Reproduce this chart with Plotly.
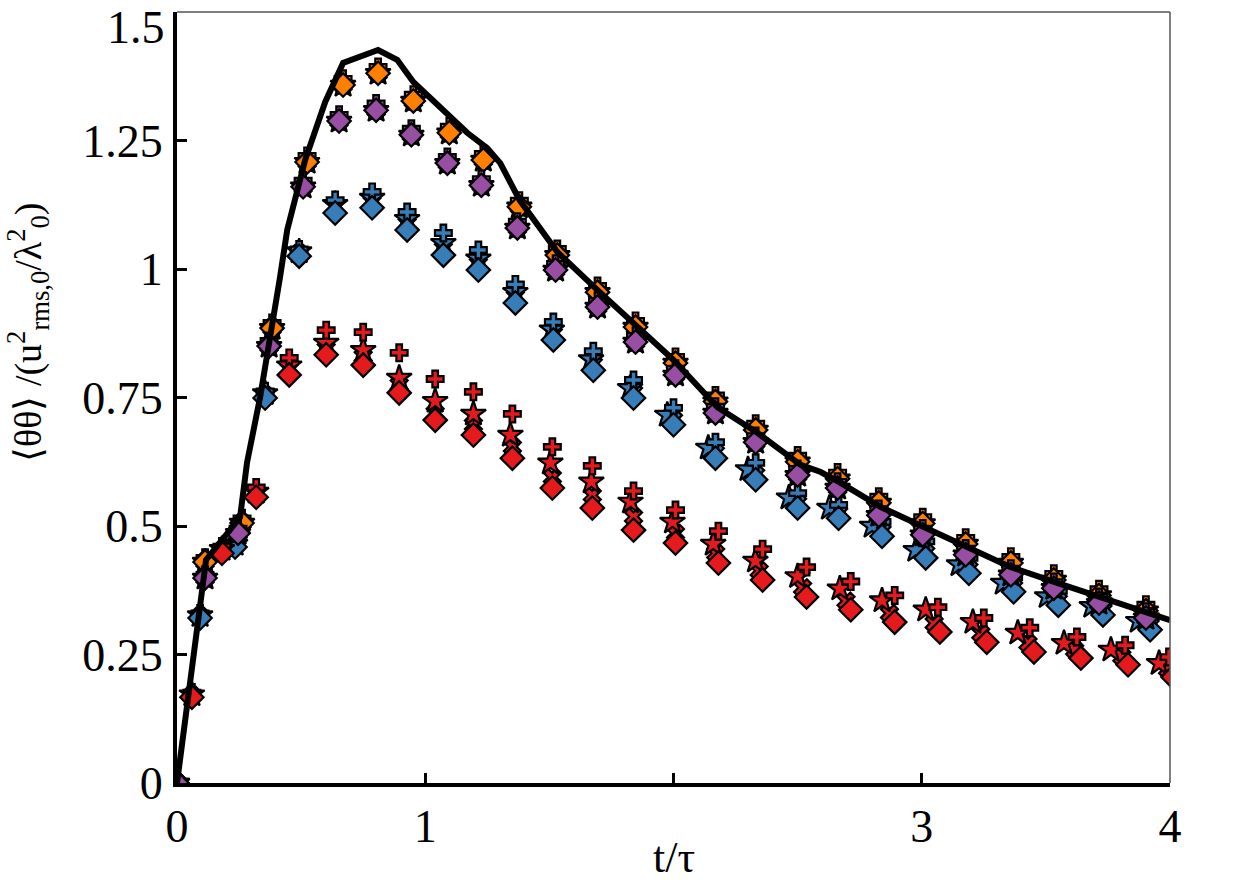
import plotly.graph_objects as go

# ---------------- data ----------------
t_line = [0, 0.117, 0.254, 0.282, 0.335, 0.387, 0.415, 0.444, 0.516, 0.597, 0.669, 0.810, 0.887, 0.952,
          1.048, 1.169, 1.250, 1.302, 1.380, 1.532, 1.694, 1.847, 2.000, 2.177, 2.339, 2.512, 2.593, 2.673,
          2.835, 3.008, 3.185, 3.359, 3.548, 3.734, 3.911, 4.000]
v_line = [0, 0.434, 0.517, 0.623, 0.751, 0.895, 0.984, 1.076, 1.212, 1.325, 1.401, 1.426, 1.407, 1.364,
          1.319, 1.265, 1.235, 1.206, 1.134, 1.033, 0.959, 0.891, 0.823, 0.731, 0.681, 0.619, 0.605, 0.584,
          0.537, 0.498, 0.459, 0.420, 0.389, 0.360, 0.331, 0.317]

# orange
t_orange = [0.0, 0.113, 0.262, 0.383, 0.524, 0.669, 0.810, 0.952, 1.097, 1.234, 1.379, 1.532, 1.694, 1.847,
            2.008, 2.169, 2.331, 2.500, 2.661, 2.827, 3.004, 3.177, 3.359, 3.532, 3.714, 3.903]
v_orange_diamond = [0.0, 0.430, 0.506, 0.885, 1.208, 1.358, 1.381, 1.327, 1.265, 1.212, 1.121, 1.027, 0.955,
                    0.887, 0.817, 0.742, 0.687, 0.625, 0.592, 0.545, 0.505, 0.465, 0.428, 0.395, 0.365, 0.335]
v_orange_cross = [0.0, 0.438, 0.515, 0.895, 1.220, 1.370, 1.393, 1.339, 1.277, 1.224, 1.133, 1.039, 0.967,
                  0.899, 0.829, 0.754, 0.699, 0.637, 0.604, 0.557, 0.517, 0.477, 0.440, 0.407, 0.377, 0.347]

# purple
t_purple = [0.0, 0.113, 0.246, 0.371, 0.508, 0.653, 0.802, 0.944, 1.089, 1.226, 1.371, 1.525, 1.694, 1.847,
            2.008, 2.169, 2.331, 2.500, 2.661, 2.827, 3.004, 3.177, 3.359, 3.532, 3.714, 3.903]
v_purple_diamond = [0.0, 0.399, 0.486, 0.850, 1.160, 1.288, 1.309, 1.261, 1.206, 1.163, 1.080, 0.998, 0.926,
                    0.858, 0.794, 0.720, 0.663, 0.599, 0.574, 0.521, 0.483, 0.444, 0.405, 0.379, 0.350, 0.321]
v_purple_cross = [0.0, 0.405, 0.495, 0.860, 1.172, 1.300, 1.322, 1.273, 1.218, 1.175, 1.092, 1.010, 0.938,
                  0.870, 0.806, 0.732, 0.675, 0.611, 0.586, 0.533, 0.495, 0.456, 0.417, 0.391, 0.362, 0.333]

# blue
t_blue = [0.093, 0.234, 0.355, 0.492, 0.637, 0.786, 0.927, 1.073, 1.214, 1.363, 1.516, 1.677, 1.839, 2.000,
          2.169, 2.331, 2.500, 2.665, 2.840, 3.016, 3.190, 3.370, 3.550, 3.730, 3.920]
t_blue_star = [0.093, 0.234, 0.355, 0.492, 0.637, 0.786, 0.927, 1.073, 1.214, 1.363, 1.510, 1.668, 1.825,
               1.975, 2.140, 2.300, 2.465, 2.628, 2.800, 2.976, 3.150, 3.328, 3.505, 3.685, 3.872]
v_blue_diamond = [0.321, 0.459, 0.749, 1.025, 1.109, 1.119, 1.076, 1.027, 0.998, 0.934, 0.862, 0.803, 0.749,
                  0.697, 0.632, 0.590, 0.535, 0.515, 0.480, 0.438, 0.408, 0.372, 0.346, 0.327, 0.298]
v_blue_x = [0.324, 0.462, 0.754, 1.030, 1.120, 1.130, 1.088, 1.040, 1.010, 0.946, 0.874, 0.815, 0.760,
            0.707, 0.643, 0.600, 0.545, 0.525, 0.490, 0.448, 0.417, 0.381, 0.355, 0.336, 0.307]
v_blue_star = [0.326, 0.465, 0.758, 1.034, 1.126, 1.138, 1.097, 1.050, 1.020, 0.955, 0.882, 0.824, 0.768,
               0.716, 0.652, 0.610, 0.555, 0.535, 0.500, 0.453, 0.425, 0.389, 0.363, 0.344, 0.315]
v_blue_cross = [0.330, 0.468, 0.762, 1.038, 1.134, 1.150, 1.111, 1.070, 1.037, 0.970, 0.897, 0.840, 0.784,
                0.730, 0.663, 0.623, 0.564, 0.541, 0.508, 0.470, 0.438, 0.400, 0.374, 0.354, 0.324]

# red
t_red = [0.060, 0.181, 0.319, 0.452, 0.601, 0.750, 0.895, 1.040, 1.194, 1.351, 1.512, 1.673, 1.839, 2.008,
         2.181, 2.359, 2.536, 2.714, 2.891, 3.073, 3.262, 3.452, 3.641, 3.831, 4.012]
t_red_x = [0.060, 0.181, 0.319, 0.452, 0.601, 0.750, 0.895, 1.040, 1.194, 1.351, 1.512, 1.673, 1.839, 2.008,
           2.170, 2.345, 2.520, 2.695, 2.870, 3.050, 3.238, 3.428, 3.616, 3.806, 3.990]
t_red_star = [0.060, 0.181, 0.319, 0.452, 0.601, 0.750, 0.895, 1.040, 1.194, 1.343, 1.504, 1.669, 1.827,
              1.996, 2.160, 2.330, 2.500, 2.670, 2.840, 3.016, 3.206, 3.387, 3.573, 3.762, 3.956]
t_red_cross = [0.060, 0.181, 0.319, 0.452, 0.601, 0.750, 0.895, 1.040, 1.194, 1.351, 1.512, 1.673, 1.839,
               2.008, 2.181, 2.359, 2.536, 2.714, 2.891, 3.065, 3.250, 3.435, 3.625, 3.819, 3.996]
v_red_diamond = [0.167, 0.447, 0.556, 0.794, 0.833, 0.813, 0.759, 0.706, 0.677, 0.632, 0.574, 0.535, 0.492,
                 0.467, 0.428, 0.395, 0.362, 0.337, 0.313, 0.294, 0.274, 0.255, 0.243, 0.230, 0.206]
v_red_x = [0.170, 0.452, 0.561, 0.805, 0.845, 0.830, 0.775, 0.720, 0.697, 0.654, 0.595, 0.560, 0.518,
           0.486, 0.447, 0.413, 0.380, 0.354, 0.330, 0.311, 0.291, 0.272, 0.259, 0.246, 0.222]
v_red_star = [0.172, 0.455, 0.566, 0.812, 0.856, 0.842, 0.788, 0.743, 0.718, 0.677, 0.623, 0.586, 0.547,
              0.508, 0.465, 0.432, 0.402, 0.378, 0.355, 0.337, 0.313, 0.292, 0.272, 0.259, 0.233]
v_red_cross = [0.176, 0.460, 0.575, 0.827, 0.881, 0.877, 0.837, 0.786, 0.761, 0.718, 0.654, 0.617, 0.568,
               0.531, 0.490, 0.455, 0.420, 0.392, 0.365, 0.342, 0.321, 0.302, 0.284, 0.268, 0.245]

x_ticks = [0, 1, 2, 3, 4]
x_ticklabels = ["0", "1", "", "3", "4"]
y_ticks = [0, 0.25, 0.5, 0.75, 1, 1.25, 1.5]
y_ticklabels = ["0", "0.25", "0.5", "0.75", "1", "1.25", ""]
y_top_label = "1.5"   # drawn as an annotation so it stays inside the page

ORANGE = "#ff7f00"
PURPLE = "#984ea3"
BLUE = "#377eb8"
RED = "#e41a1c"

FONT = "Liberation Serif"

fig = go.Figure()

SIZES = {"x": 15, "star": 19, "cross": 14, "diamond": 18}


def add(t, v, color, symbol):
    fig.add_trace(go.Scatter(
        x=t, y=v, mode="markers",
        marker=dict(symbol=symbol, size=SIZES[symbol], color=color,
                    line=dict(color="black", width=2.2)),
        hoverinfo="skip", showlegend=False))


groups = [
    (ORANGE, [(t_orange, v_orange_diamond, "x"), (t_orange, v_orange_diamond, "star"),
              (t_orange, v_orange_cross, "cross"), (t_orange, v_orange_diamond, "diamond")]),
    (BLUE, [(t_blue, v_blue_x, "x"), (t_blue_star, v_blue_star, "star"),
            (t_blue, v_blue_cross, "cross"), (t_blue, v_blue_diamond, "diamond")]),
    (PURPLE, [(t_purple, v_purple_diamond, "x"), (t_purple, v_purple_diamond, "star"),
              (t_purple, v_purple_cross, "cross"), (t_purple, v_purple_diamond, "diamond")]),
    (RED, [(t_red_x, v_red_x, "x"), (t_red_star, v_red_star, "star"),
           (t_red_cross, v_red_cross, "cross"), (t_red, v_red_diamond, "diamond")]),
]
for color, series in groups:
    for t, v, sym in series:
        add(t, v, color, sym)

fig.add_trace(go.Scatter(x=t_line, y=v_line, mode="lines",
                         line=dict(color="black", width=6), hoverinfo="skip", showlegend=False))

axis_common = dict(
    ticks="inside", ticklen=10, tickwidth=3, tickcolor="black",
    showline=True, linewidth=4, linecolor="black",
    showgrid=False, zeroline=False, automargin=False,
    tickfont=dict(family=FONT, size=46, color="black"),
)

fig.update_xaxes(range=[0, 4], tickmode="array", tickvals=x_ticks, ticktext=x_ticklabels, **axis_common)
fig.update_yaxes(range=[0, 1.5], tickmode="array", tickvals=y_ticks, ticktext=y_ticklabels,
                 ticklabelstandoff=1, **axis_common)

fig.update_layout(
    width=1240, height=886,
    margin=dict(l=177, r=70, t=12, b=103, autoexpand=False),
    plot_bgcolor="white", paper_bgcolor="white",
    showlegend=False,
    shapes=[
        dict(type="line", xref="paper", yref="paper", x0=0, x1=1, y0=1, y1=1,
             line=dict(color="#555555", width=1.5)),
        dict(type="line", xref="paper", yref="paper", x0=1, x1=1, y0=0, y1=1,
             line=dict(color="#555555", width=1.5)),
    ],
    annotations=[
        dict(text=y_top_label, xref="paper", yref="y", x=0, y=1.5, xanchor="right", yanchor="middle",
             xshift=-10, yshift=-15, showarrow=False, font=dict(family=FONT, size=46, color="black")),
        dict(text="t/τ", xref="x", yref="paper", x=2, y=-0.097, xanchor="center", yanchor="middle",
             showarrow=False, font=dict(family=FONT, size=44, color="black")),
        dict(text="⟨θθ⟩ /(u<sup>2</sup><sub>rms,0</sub>/λ<sup>2</sup><sub>0</sub>)",
             xref="paper", yref="paper", x=-0.15, y=0.585, xanchor="center", yanchor="middle",
             textangle=-90, showarrow=False, font=dict(family=FONT, size=38, color="black")),
    ],
)

fig.write_html("out.html")
